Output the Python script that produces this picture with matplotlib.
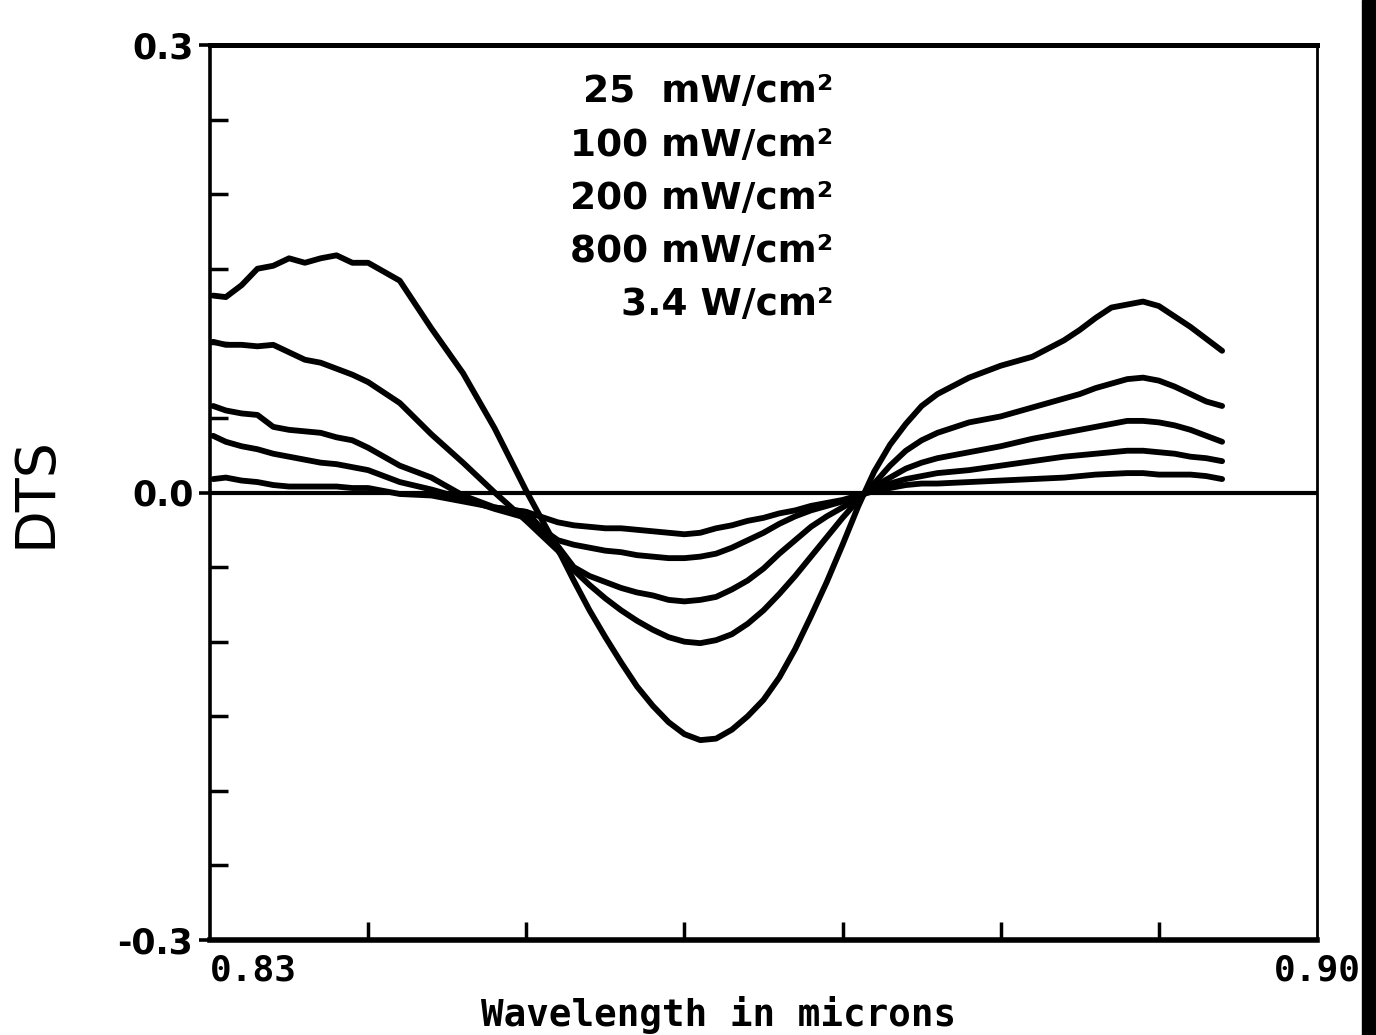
import numpy as np
import matplotlib.pyplot as plt
from matplotlib.patches import Rectangle

# wavelength grid (microns) shared by all curves
wavelength = [0.8302, 0.831, 0.832, 0.833, 0.834, 0.835, 0.836, 0.837, 0.838,
              0.839, 0.840,
              0.842, 0.844, 0.846, 0.848, 0.850, 0.852,
              0.853, 0.854, 0.855, 0.856, 0.857, 0.858, 0.859, 0.860, 0.861,
              0.862, 0.863, 0.864, 0.865, 0.866, 0.867, 0.868, 0.869, 0.870,
              0.871, 0.872, 0.873, 0.874, 0.875, 0.876,
              0.878, 0.880, 0.882, 0.884,
              0.885, 0.886, 0.887, 0.888, 0.889, 0.890, 0.891, 0.892, 0.893,
              0.894]

dts_3400 = [0.132, 0.131, 0.139, 0.150, 0.152, 0.157, 0.154, 0.157, 0.159,
            0.154, 0.154,
            0.142, 0.110, 0.080, 0.043, 0.001, -0.038,
            -0.059, -0.079, -0.097, -0.114, -0.130, -0.143, -0.154, -0.162,
            -0.166, -0.165, -0.159, -0.150, -0.139, -0.124, -0.105, -0.083,
            -0.060, -0.035, -0.009, 0.014, 0.032, 0.046, 0.058, 0.066,
            0.077, 0.085, 0.091, 0.102,
            0.109, 0.117, 0.124, 0.126, 0.128, 0.125, 0.118, 0.111, 0.103,
            0.095]

dts_800 = [0.101, 0.099, 0.099, 0.098, 0.099, 0.094, 0.089, 0.087, 0.083,
           0.079, 0.074,
           0.060, 0.039, 0.020, 0.000, -0.019, -0.039,
           -0.052, -0.062, -0.071, -0.079, -0.086, -0.092, -0.097, -0.100,
           -0.101, -0.099, -0.095, -0.088, -0.079, -0.068, -0.056, -0.043,
           -0.030, -0.017, -0.005, 0.006, 0.018, 0.028, 0.035, 0.040,
           0.047, 0.051, 0.057, 0.063,
           0.066, 0.070, 0.073, 0.076, 0.077, 0.075, 0.071, 0.066, 0.061,
           0.058]

dts_200 = [0.058, 0.055, 0.053, 0.052, 0.044, 0.042, 0.041, 0.040, 0.037,
           0.035, 0.030,
           0.018, 0.010, -0.002, -0.010, -0.013, -0.036,
           -0.050, -0.056, -0.060, -0.064, -0.067, -0.069, -0.072, -0.073,
           -0.072, -0.070, -0.065, -0.059, -0.051, -0.041, -0.032, -0.023,
           -0.016, -0.010, -0.004, 0.004, 0.010, 0.016, 0.020, 0.023,
           0.027, 0.031, 0.036, 0.040,
           0.042, 0.044, 0.046, 0.048, 0.048, 0.047, 0.045, 0.042, 0.038,
           0.034]

dts_100 = [0.038, 0.034, 0.031, 0.029, 0.026, 0.024, 0.022, 0.020, 0.019,
           0.017, 0.015,
           0.007, 0.002, -0.004, -0.011, -0.017, -0.032,
           -0.035, -0.037, -0.039, -0.040, -0.042, -0.043, -0.044, -0.044,
           -0.043, -0.041, -0.037, -0.032, -0.027, -0.021, -0.016, -0.012,
           -0.009, -0.006, -0.002, 0.002, 0.006, 0.009, 0.011, 0.013,
           0.015, 0.018, 0.021, 0.024,
           0.025, 0.026, 0.027, 0.028, 0.028, 0.027, 0.026, 0.024, 0.023,
           0.021]

dts_25 = [0.009, 0.010, 0.008, 0.007, 0.005, 0.004, 0.004, 0.004, 0.004,
          0.003, 0.003,
          -0.001, -0.002, -0.006, -0.010, -0.013, -0.020,
          -0.022, -0.023, -0.024, -0.024, -0.025, -0.026, -0.027, -0.028,
          -0.027, -0.024, -0.022, -0.019, -0.017, -0.014, -0.012, -0.009,
          -0.007, -0.005, -0.002, 0.001, 0.003, 0.005, 0.006, 0.006,
          0.007, 0.008, 0.009, 0.010,
          0.011, 0.012, 0.0125, 0.013, 0.013, 0.012, 0.012, 0.012, 0.011,
          0.009]

labels = ["25  mW/cm\u00b2", "100 mW/cm\u00b2", "200 mW/cm\u00b2",
          "800 mW/cm\u00b2", "3.4 W/cm\u00b2"]

fig = plt.figure(figsize=(13.76, 10.35), dpi=100)
ax = fig.add_axes([210 / 1376, 95 / 1035, 1107 / 1376, 895 / 1035])

for series in (dts_25, dts_100, dts_200, dts_800, dts_3400):
    ax.plot(wavelength, series, color="black", lw=4.2,
            solid_joinstyle="round", solid_capstyle="round")
ax.axhline(0.0, color="black", lw=3.0)

ax.set_xlim(0.83, 0.90)
ax.set_ylim(-0.3, 0.3)

for side, lw in (("left", 2.6), ("bottom", 4.0), ("top", 3.6), ("right", 2.0)):
    ax.spines[side].set_linewidth(lw)

ax.set_xticks([0.83, 0.90])
ax.set_xticklabels(["0.83", "0.90"], family="DejaVu Sans Mono",
                   fontweight="bold", fontsize=26)
ax.set_xticks(np.arange(0.84, 0.895, 0.01), minor=True)
ax.tick_params(axis="x", which="major", length=0, pad=10)
ax.tick_params(axis="x", which="minor", direction="in", length=13, width=2.5)
ax.get_xticklabels()[0].set_ha("left")

ax.set_yticks([-0.3, 0.0, 0.3])
ax.set_yticklabels(["-0.3", "0.0", "0.3"], fontweight="bold", fontsize=25)
ax.set_yticks([-0.25, -0.2, -0.15, -0.1, -0.05, 0.05, 0.1, 0.15, 0.2, 0.25],
              minor=True)
ax.tick_params(axis="y", which="major", direction="inout", length=16,
               width=2.6, pad=4)
ax.tick_params(axis="y", which="minor", direction="in", length=13, width=2.5)

ax.set_xlabel("Wavelength in microns", family="DejaVu Sans Mono",
              fontweight="bold", fontsize=27, labelpad=6, x=0.459)
ax.set_ylabel("DTS", fontsize=40, labelpad=40)

for i, txt in enumerate(labels):
    ax.text(0.563, 0.947 - i * 0.0595, txt, transform=ax.transAxes,
            ha="right", va="center", fontsize=27, fontweight="bold")

# dark page edge on the right of the scan
fig.patches.append(Rectangle((1362 / 1376, 0), 14 / 1376, 1,
                             transform=fig.transFigure, color="black"))

fig.savefig("out.png", dpi=100)
